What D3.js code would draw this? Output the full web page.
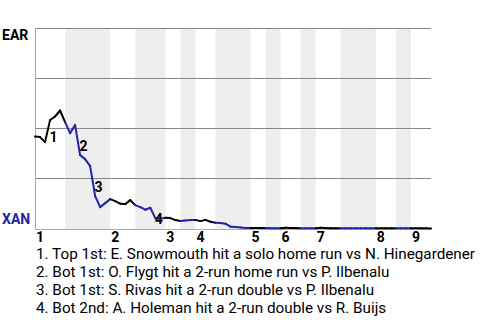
<!DOCTYPE html>
<html lang="en">
<head>
    <meta charset="UTF-8">
    <title>Win Probability</title>
    <script src="https://d3js.org/d3.v7.min.js"></script>
    <style>
        body { margin: 0; background: #fff; font-family: Roboto, Arial, sans-serif; }
        svg { display: block; }
        .team { font-size: 14px; font-weight: bold; }
        .inning { font-size: 14px; font-weight: bold; }
        .evt { font-size: 14px; font-weight: bold; }
        .legend { font-size: 15.25px; }
    </style>
</head>
<body>
    <svg width="480" height="320"></svg>

    <script>
        // teams: away on top, home at the bottom
        const awayTeam = "EAR";
        const homeTeam = "XAN";

        // away team win probability after each plate appearance (index 0 = first pitch)
        const winProb = [
            0.460, 0.457, 0.432, 0.542, 0.560, 0.590,
            0.532, 0.477, 0.517, 0.367, 0.347, 0.312, 0.162, 0.107, 0.127, 0.147,
            0.137, 0.124, 0.122, 0.142, 0.117,
            0.107, 0.094, 0.104, 0.052, 0.049, 0.054,
            0.052, 0.042, 0.038,
            0.040, 0.042, 0.043,
            0.037, 0.043, 0.034, 0.029,
            0.027, 0.024, 0.009, 0.007, 0.005, 0.003, 0.003,
            0.002, 0.002, 0.002,
            0.001, 0.001, 0.001,
            0.004, 0.003, 0.002, 0.001,
            0.001, 0.001, 0.001,
            0.004, 0.002, 0.001, 0.001, 0.001,
            0.001, 0.001, 0.001, 0.001, 0.001, 0.001, 0.001,
            0.001, 0.001, 0.001, 0.001,
            0.001, 0.001, 0.001,
            0.001, 0.001, 0.001, 0.000
        ];

        // plate appearances in each half inning (top 1st, bot 1st, ... top 9th)
        const halfInningPAs = [6, 9, 5, 6, 3, 3, 4, 7, 3, 3, 4, 3, 5, 7, 4, 3, 4];
        const inningLabels = ["1", "2", "3", "4", "5", "6", "7", "8", "9"];

        // key plays: plate appearance index and description
        const eventPlays = [3, 9, 12, 24];
        const eventTexts = [
            "Top 1st: E. Snowmouth hit a solo home run vs N. Hinegardener",
            "Bot 1st: O. Flygt hit a 2-run home run vs P. Ilbenalu",
            "Bot 1st: S. Rivas hit a 2-run double vs P. Ilbenalu",
            "Bot 2nd: A. Holeman hit a 2-run double vs R. Buijs"
        ];

        const blue = "#2222aa";
        const svg = d3.select("svg");
        const plotLeft = 35, plotRight = 431, plotTop = 28.5, plotBottom = 228.5;

        const totalPAs = d3.sum(halfInningPAs);
        const x = d3.scaleLinear().domain([0, totalPAs]).range([plotLeft, plotRight]);
        const y = d3.scaleLinear().domain([0, 1]).range([plotBottom, plotTop]);

        // half inning boundaries
        const bounds = [0].concat(Array.from(d3.cumsum(halfInningPAs)));
        const halves = halfInningPAs.map((n, i) => ({ start: bounds[i], end: bounds[i + 1], bottomHalf: i % 2 === 1 }));

        // shaded bands for bottom halves
        svg.append("g")
            .selectAll("rect")
            .data(halves.filter(d => d.bottomHalf))
            .enter().append("rect")
            .attr("x", d => x(d.start))
            .attr("y", plotTop)
            .attr("width", d => x(d.end) - x(d.start))
            .attr("height", plotBottom - plotTop + 1)
            .attr("fill", "#eeeeee");

        // gridlines
        svg.append("g")
            .selectAll("line")
            .data([0.25, 0.5, 0.75, 1])
            .enter().append("line")
            .attr("x1", plotLeft)
            .attr("x2", plotRight)
            .attr("y1", d => Math.floor(y(d)) + 0.5)
            .attr("y2", d => Math.floor(y(d)) + 0.5)
            .attr("stroke", "#888")
            .attr("stroke-width", 1);

        // left and bottom frame
        svg.append("line")
            .attr("x1", plotLeft + 0.5).attr("x2", plotLeft + 0.5)
            .attr("y1", plotTop).attr("y2", plotBottom + 1.5)
            .attr("stroke", "#aaa");
        svg.append("line")
            .attr("x1", plotLeft).attr("x2", plotRight)
            .attr("y1", plotBottom + 1).attr("y2", plotBottom + 1)
            .attr("stroke", "#aaa");

        // line segments, black while the away team bats, blue for the home team
        const segs = d3.range(winProb.length - 1).map(i => {
            const half = halves.findIndex(h => i + 1 > h.start && i + 1 <= h.end);
            return { a: i, b: i + 1, bottomHalf: half % 2 === 1 };
        });
        svg.append("g")
            .selectAll("line")
            .data(segs)
            .enter().append("line")
            .attr("x1", d => x(d.a))
            .attr("y1", d => y(winProb[d.a]))
            .attr("x2", d => x(d.b))
            .attr("y2", d => y(winProb[d.b]))
            .attr("stroke", d => d.bottomHalf ? blue : "#000")
            .attr("stroke-width", 2)
            .attr("stroke-linecap", "round");

        // key play markers
        svg.append("g")
            .selectAll("text")
            .data(eventPlays)
            .enter().append("text")
            .attr("class", "evt")
            .attr("x", d => (x(d - 1) + x(d)) / 2 + 6)
            .attr("y", d => (y(winProb[d - 1]) + y(winProb[d])) / 2 + 6)
            .attr("dy", "0.35em")
            .attr("text-anchor", "middle")
            .text((d, i) => i + 1);

        // team labels
        svg.append("text").attr("class", "team")
            .attr("x", 2).attr("y", 40)
            .text(awayTeam);
        svg.append("text").attr("class", "team")
            .attr("x", 2).attr("y", 224)
            .attr("fill", blue)
            .text(homeTeam);

        // inning numbers at the start of each top half
        svg.append("g")
            .selectAll("text")
            .data(inningLabels)
            .enter().append("text")
            .attr("class", "inning")
            .attr("x", (d, i) => x(bounds[i * 2]) + 1)
            .attr("y", 242)
            .text(d => d);

        // legend
        svg.append("g")
            .selectAll("text")
            .data(eventTexts)
            .enter().append("text")
            .attr("class", "legend")
            .attr("x", 36)
            .attr("y", (d, i) => 258.5 + i * 18.1)
            .text((d, i) => (i + 1) + ". " + d);
    </script>
</body>
</html>
